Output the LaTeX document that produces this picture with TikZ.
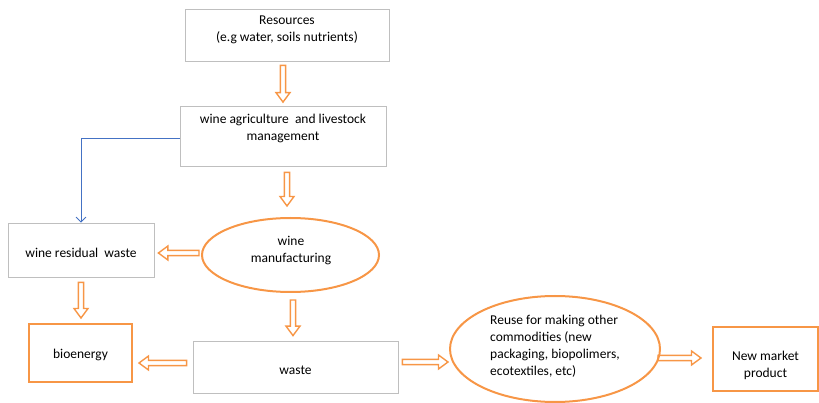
\documentclass[tikz,border=0pt]{standalone}
\usepackage{fontspec}
\setmainfont{Carlito}
\usetikzlibrary{calc,shapes.geometric,arrows.meta}

\definecolor{flow}{RGB}{247,150,70}
\definecolor{edge}{RGB}{191,191,191}
\definecolor{link}{RGB}{68,114,196}

\tikzset{
  plainbox/.style={draw=edge, line width=0.8pt, rectangle, inner sep=0pt},
  hotbox/.style={draw=flow, line width=2pt, rectangle, inner sep=0pt},
  stage/.style={draw=flow, line width=2pt, ellipse, inner sep=0pt},
  txt/.style={font=\fontsize{13.5}{17}\selectfont, align=center, inner sep=0pt},
  % hollow block arrow from the start point to the end point
  fat/.style={draw=flow, line width=1.4pt, line join=miter,
    to path={let \p1=(\tikztostart), \p2=(\tikztotarget),
      \n1={atan2(\y2-\y1,\x2-\x1)}, \n2={veclen(\x2-\x1,\y2-\y1)} in
      ($(\p1)+(\n1+90:2.6pt)$) -- ($(\p1)+(\n1:{\n2-9.5pt})+(\n1+90:2.6pt)$)
      -- ($(\p1)+(\n1:{\n2-9.5pt})+(\n1+90:7pt)$) -- (\p2)
      -- ($(\p1)+(\n1:{\n2-9.5pt})+(\n1-90:7pt)$)
      -- ($(\p1)+(\n1:{\n2-9.5pt})+(\n1-90:2.6pt)$)
      -- ($(\p1)+(\n1-90:2.6pt)$) -- cycle}},
  thin link/.style={draw=link, line width=0.8pt, -{Straight Barb[length=5pt,width=10pt]}}
}

\begin{document}
\begin{tikzpicture}[x=1pt,y=-1pt]
\useasboundingbox (0,0) rectangle (819,403);

% boxes and stages
\node[plainbox, minimum width=204, minimum height=52] (res) at (287,35) {};
\node[txt] (restxt) at (287,30) {Resources\\(e.g water, soils nutrients)};

\node[plainbox, minimum width=206, minimum height=60] (agr) at (283,136) {};
\node[txt] (agrtxt) at (283,128.5) {wine agriculture\ \ and livestock\\management};

\node[stage, minimum width=177, minimum height=74] (mfg) at (290.5,255) {};
\node[txt] (mfgtxt) at (291,250.5) {wine\\manufacturing};

\node[plainbox, minimum width=146, minimum height=54] (resid) at (81,250) {};
\node[txt] (residtxt) at (81,253) {wine residual\ \ waste};

\node[hotbox, minimum width=103, minimum height=58] (bio) at (80.5,353) {};
\node[txt] (biotxt) at (80.5,355) {bioenergy};

\node[plainbox, minimum width=205, minimum height=52] (waste) at (295.5,367) {};
\node[txt] (wastetxt) at (295.5,370) {waste};

\node[stage, minimum width=210, minimum height=106] (reuse) at (555,349) {};
\node[txt, align=left, anchor=west] (reusetxt) at (490,346.5)
  {Reuse for making other\\commodities (new\\packaging, biopolimers,\\ecotextiles, etc)};

\node[hotbox, minimum width=105, minimum height=64] (newm) at (765.5,359) {};
\node[txt] (newmtxt) at (765.5,365.5) {New market\\product};

% flows
\path[fat] ($(res.south)+(-4,4)$) to ($(agr.north)+(0,-3.5)$);
\path[fat] ($(agr.south)+(4,6)$) to ($(mfg.north)+(-3.5,-11)$);
\path[fat] ($(mfg.west)+(-2,-2)$) to ($(resid.east)+(4,3)$);
\path[fat] ($(resid.south)+(0,5)$) to ($(bio.north)+(0.5,-5)$);
\path[fat] ($(mfg.south)+(2.5,7)$) to ($(waste.north)+(-2.5,-5)$);
\path[fat] ($(waste.west)+(-6,-4)$) to ($(bio.east)+(6,10)$);
\path[fat] ($(waste.east)+(4,-5)$) to ($(reuse.west)+(-1,13)$);
\path[fat] ($(reuse.east)+(-3,9)$) to ($(newm.west)+(-11,-1)$);

% side link from agriculture to residual waste
\draw[thin link] ([yshift=-2pt]agr.west) -| (resid.north);
\end{tikzpicture}
\end{document}
